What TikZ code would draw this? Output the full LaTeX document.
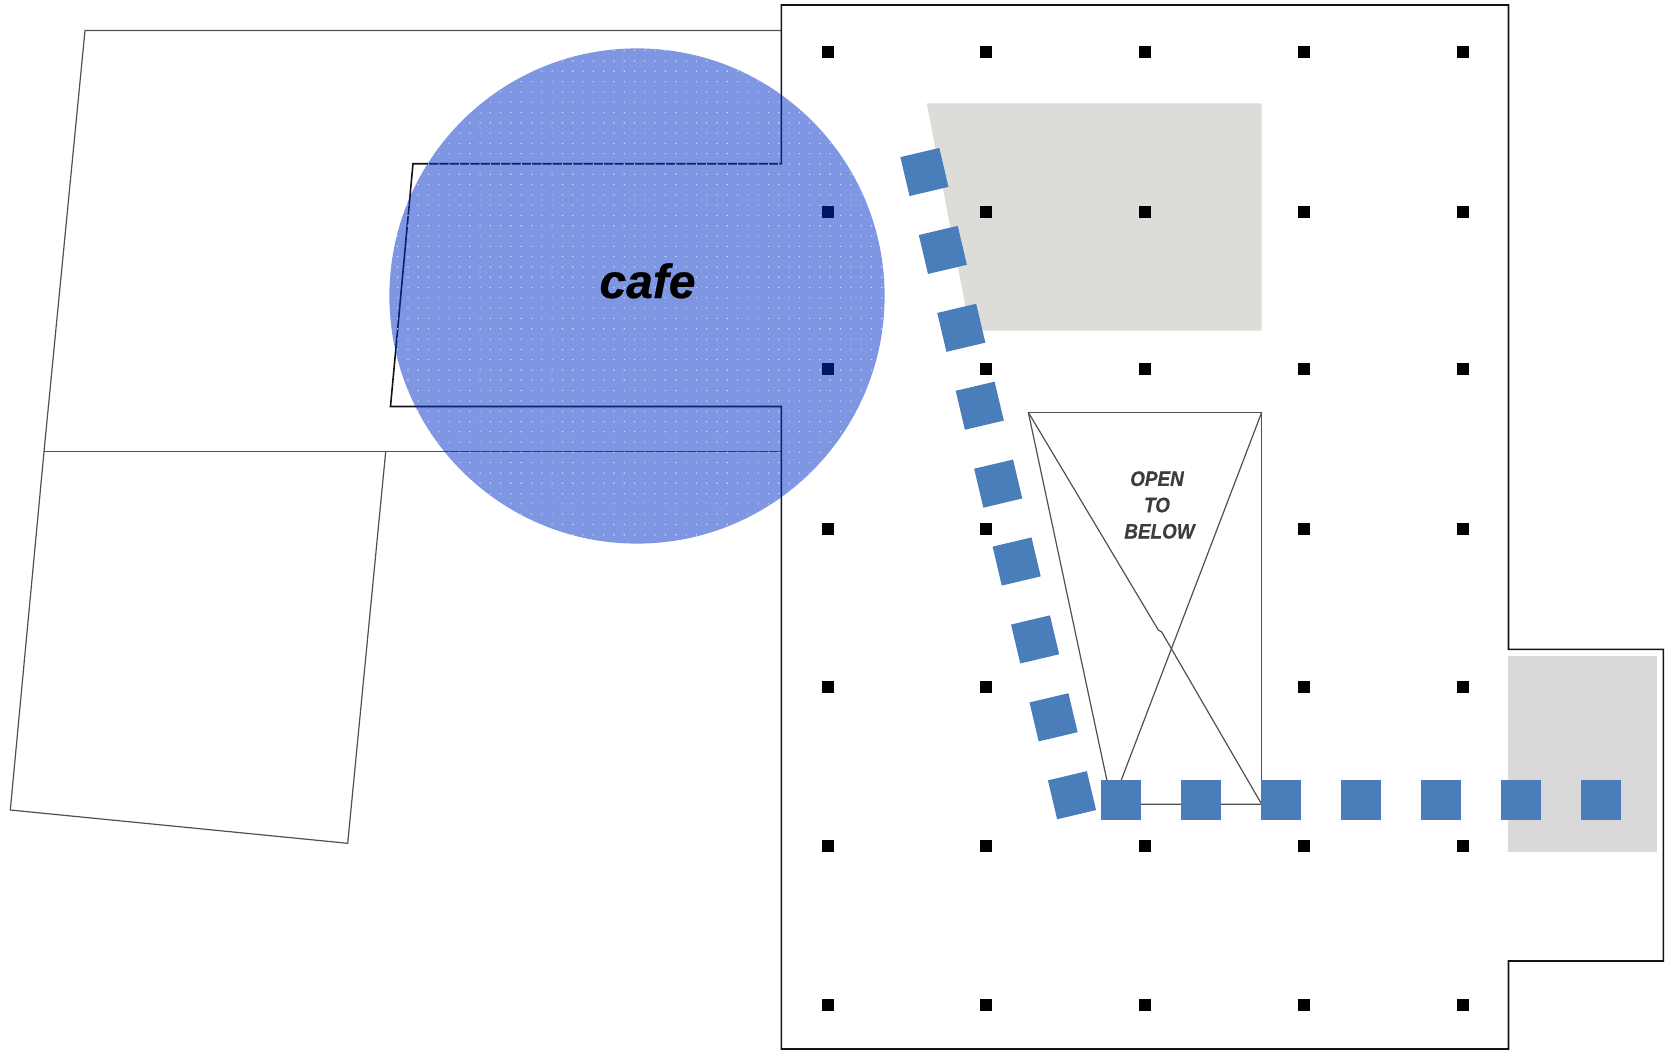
\documentclass[tikz,border=0pt]{standalone}
\usepackage{fontspec}
\setmainfont{Liberation Sans}
\newfontfamily\labelfont[FakeStretch=0.9,FakeBold=0.5]{Liberation Sans}
\newfontfamily\cafefont[FakeBold=0.6]{Liberation Sans}
\definecolor{wallc}{HTML}{141414}
\definecolor{thinc}{HTML}{505050}
\definecolor{floorA}{HTML}{DCDDD9}
\definecolor{floorB}{HTML}{D9D9D9}
\definecolor{stepblue}{HTML}{4A7EBB}
\definecolor{cafeblue}{HTML}{002DC8}
\definecolor{dotc}{HTML}{D5DDF7}
\definecolor{labelc}{HTML}{3C3C3C}
\tikzset{
  wall/.style={draw=wallc,line width=1.6pt,line join=miter},
  thin wall/.style={draw=thinc,line width=1.2pt,line join=miter},
  pillar/.style={fill=black,inner sep=0pt,minimum size=12pt,rectangle},
  stepbox/.style={fill=stepblue,inner sep=0pt,minimum size=40pt,rectangle},
  cafezone/.style={fill=cafeblue,fill opacity=0.5},
}
\begin{document}
\begin{tikzpicture}[x=1pt,y=-1pt]
\useasboundingbox (0,0) rectangle (1665,1050);
% grey floor areas
\fill[floorA] (926.7,103.3) -- (1261.6,103.3) -- (1261.6,330.5) -- (970,330.5) -- cycle;
\fill[floorB] (1508,656) rectangle (1656.5,851.7);
% old building outline
\draw[thin wall] (781.3,30.5) -- (85,30.5) -- (44,451.7) -- (10.3,810) -- (347.7,843.3) -- (385.7,451.7);
\draw[thin wall] (44,451.7) -- (781.3,451.7);
% open to below
\draw[thin wall] (1028.3,412.3) -- (1261.7,412.3) -- (1261.7,804.3);
\draw[thin wall] (1261.7,804.3) -- (1112,804.3) -- (1028.3,412.3);
\draw[thin wall] (1028.3,412.3) -- (1158.3,630) -- (1161.7,632) -- (1261.7,804.3);
\draw[thin wall] (1261.7,412.3) -- (1112,804.3);
% main outline
\draw[wall] (781.3,5) -- (1508.5,5) -- (1508.5,649.3) -- (1663.3,649.3) -- (1663.3,961) -- (1508.5,961) -- (1508.5,1049) -- (781.3,1049) -- (781.3,406.5) -- (390.5,406.5) -- (413,163.7) -- (781.3,163.7) -- cycle;
% pillars
\foreach \py/\cols [count=\r] in {51.7/{827.6,986,1144.6,1303.6,1462.7},
  212/{827.6,986,1144.6,1303.6,1462.7},
  369/{827.6,986,1144.6,1303.6,1462.7},
  528.7/{827.6,986,1303.6,1462.7},
  686.7/{827.6,986,1303.6,1462.7},
  846/{827.6,986,1144.6,1303.6,1462.7},
  1005/{827.6,986,1144.6,1303.6,1462.7}}{
  \foreach \px [count=\c] in \cols { \node[pillar] (p\r-\c) at (\px,\py) {}; }
}
% cafe circle with dotted texture
\fill[cafezone] (637,296) circle [radius=247.6pt];
\begin{scope}[even odd rule]
  \clip (637,296) circle [radius=247.6pt]
     (p2-1.south west) rectangle (p2-1.north east)
     (p3-1.south west) rectangle (p3-1.north east);
  \fill[dotc] \foreach \i in {-18,...,31}{\foreach \j in {-19,...,30}{
     ({572.7+\i*10.3-0.5},{236+\j*10.3-0.5}) rectangle +(1.1,1.1)}};
\end{scope}
% tilted walkway
\foreach \i in {0,...,8}{
  \node[stepbox,rotate=13.3] (t\i) at ({924.4+\i*18.45},{172+\i*77.9}) {};
}
% straight walkway
\foreach \i in {0,...,6}{
  \node[stepbox] (s\i) at ({1121+\i*80},800) {};
}
% labels
\node[anchor=base,inner sep=0pt,font=\cafefont\fontsize{48}{48}\selectfont\bfseries\itshape] (cafe) at (647.5,298) {cafe};
\node[inner sep=0pt,text=labelc,align=center,font=\labelfont\fontsize{21}{26.3}\selectfont\bfseries\itshape] (open) at (1157,505)
  {OPEN\\TO\\\hspace*{5pt}BELOW};
\end{tikzpicture}
\end{document}
